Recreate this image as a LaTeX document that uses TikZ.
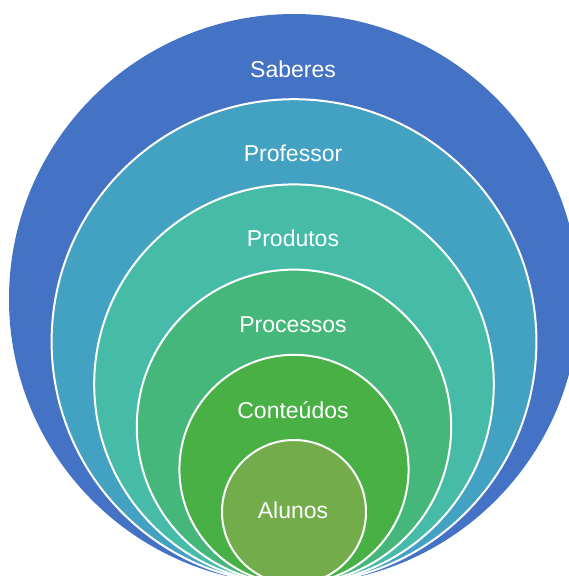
\documentclass[tikz,border=0pt]{standalone}
\usepackage{fontspec}
\setmainfont{Liberation Sans}
\definecolor{cSab}{HTML}{4472C4}
\definecolor{cPro}{HTML}{43A1C2}
\definecolor{cPrd}{HTML}{45BBA8}
\definecolor{cPrc}{HTML}{46B77A}
\definecolor{cCon}{HTML}{48B045}
\definecolor{cAlu}{HTML}{72AC4B}
\begin{document}
\begin{tikzpicture}[x=1pt,y=1pt,
  ring/.style={circle,inner sep=0pt,draw=white,line width=2pt},
  lbl/.style={text=white,font=\fontsize{23}{27}\selectfont,inner sep=0pt}]
\useasboundingbox (0,0) rectangle (568,-576);
\node[ring,draw=none,fill=cSab,minimum size=570] (sab) at (294,-299) {};
\node[ring,fill=cPro,minimum size=484.8] (pro) at (294,-341.6) {};
\node[ring,fill=cPrd,minimum size=399.6] (prd) at (294,-384.2) {};
\node[ring,fill=cPrc,minimum size=314.4] (prc) at (294,-426.8) {};
\node[ring,fill=cCon,minimum size=229.2] (con) at (294,-469.4) {};
\node[ring,fill=cAlu,minimum size=144] (alu) at (294,-512) {};
\node[lbl] (tsab) at (293,-69) {Saberes};
\node[lbl] (tpro) at (293,-153) {Professor};
\node[lbl] (tprd) at (293,-238) {Produtos};
\node[lbl] (tprc) at (293,-325) {Processos};
\node[lbl] (tcon) at (293,-410) {Conteúdos};
\node[lbl] (talu) at (293,-510) {Alunos};
\end{tikzpicture}
\end{document}
